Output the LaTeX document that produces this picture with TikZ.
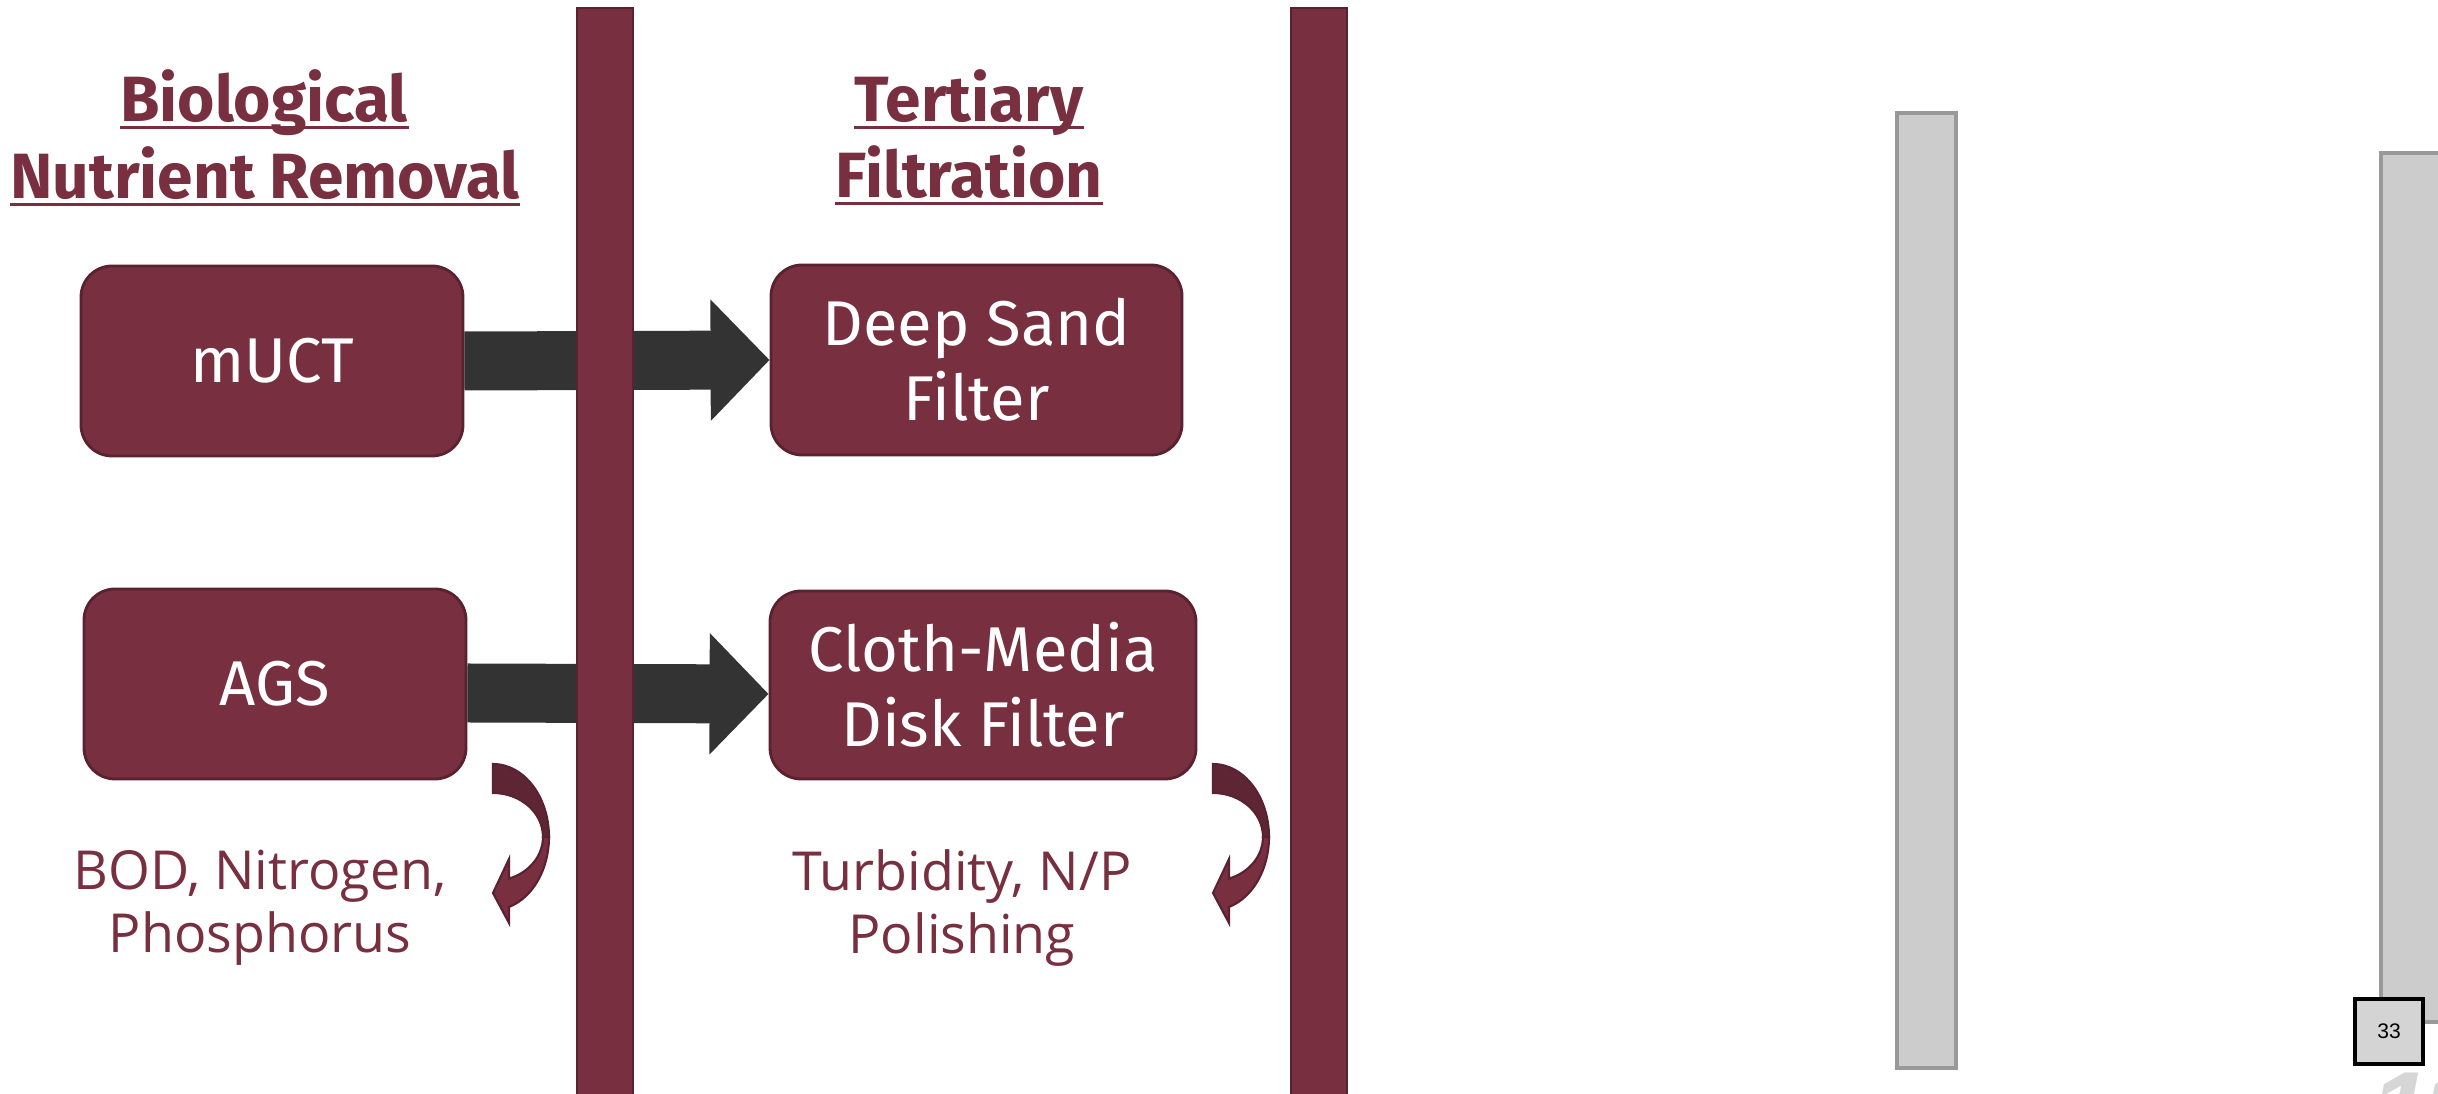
\documentclass[tikz,border=0pt]{standalone}
\usepackage{fontspec}
\usepackage{xcolor}
\usepackage{tikz}
\usetikzlibrary{arrows.meta}

\newfontfamily\headfont{Fira Sans}
\newfontfamily\bodyfont{Open Sans}
\newfontfamily\numfont{Liberation Sans}

\definecolor{garnet}{HTML}{782F40}
\definecolor{garnetdark}{HTML}{5A2131}
\definecolor{garnetshade}{HTML}{5E2535}
\definecolor{flowgray}{HTML}{333333}
\definecolor{barfill}{HTML}{CCCCCC}
\definecolor{baredge}{HTML}{999999}

\tikzset{
    heading/.style={inner sep=0, anchor=base, text=garnet,
        font=\headfont\bfseries\fontsize{18.2}{22}\selectfont},
    procbox/.style={draw=garnetdark, fill=garnet, thick, rounded corners=0.31cm,
        inner sep=0, text=white, align=center, minimum height=1.9cm,
        font=\headfont\fontsize{18}{21.3}\selectfont},
    removes/.style={text=garnet, align=center, inner sep=0,
        font=\bodyfont\fontsize{15.3}{17.9}\selectfont},
    flow/.style={flowgray, line width=0.59cm,
        -{Triangle[length=0.59cm, width=1.18cm]}},
    divider/.style={draw=garnetdark, fill=garnet, thick},
    greybar/.style={draw=baredge, fill=barfill, line width=1.2pt},
    turnarrow/.pic={
        \filldraw[draw=garnetdark, fill=garnetshade, line width=0.6pt]
            (0,0.73) arc[start angle=90, end angle=0, x radius=0.56, y radius=0.73]
            -- (0.50,0) arc[start angle=0, end angle=90, x radius=0.50, y radius=0.44]
            -- cycle;
        \filldraw[draw=garnetdark, fill=garnet, line width=0.6pt]
            (0.56,0) arc[start angle=0, end angle=-73.4, x radius=0.56, y radius=0.73]
            -- (0.16,-0.86) -- (0,-0.56) -- (0.16,-0.22) -- (0.16,-0.416)
            arc[start angle=-71.3, end angle=0, x radius=0.50, y radius=0.44]
            -- cycle;
    }
}

\begin{document}
\begin{tikzpicture}
    \useasboundingbox (0,0) rectangle (24.38,10.94);

    % Column headings
    \node[heading] (bio1) at (2.64,9.72) {Biological\ };
    \node[heading] (bio2) at (2.65,8.95) {Nutrient Removal};
    \node[heading] (ter1) at (9.69,9.72) {Tertiary};
    \node[heading] (ter2) at (9.69,8.96) {Filtration};
    \foreach \h in {bio1,bio2,ter1,ter2}
        \draw[garnet, line width=0.85pt]
            ([yshift=-0.6mm]\h.base west) -- ([yshift=-0.6mm]\h.base east);

    % Process boxes
    \node[procbox, minimum width=3.82cm] (muct) at (2.72,7.33) {mUCT};
    \node[procbox, minimum width=4.11cm] (sand) at (9.765,7.34) {Deep Sand\\Filter};
    \node[procbox, minimum width=3.82cm] (ags) at (2.75,4.10) {AGS};
    \node[procbox, minimum width=4.26cm, minimum height=1.88cm] (cloth) at (9.83,4.09)
        {Cloth-Media\\Disk Filter};

    % Flow arrows (behind the dividers)
    \draw[flow] (muct.east) -- (sand.west);
    \draw[flow] ([yshift=-0.9mm]ags.east) -- ([yshift=-0.9mm]cloth.west);

    % Dividers
    \draw[divider] (5.77,-0.1) rectangle (6.33,10.86);
    \draw[divider] (12.91,-0.1) rectangle (13.47,10.86);

    % What each stage removes
    \node[removes] (bnrnote) at (2.60,1.86) {BOD, Nitrogen,\\Phosphorus};
    \node[removes] (ternote) at (9.62,1.86) {Turbidity, N/P\\Polishing};
    \pic at (4.93,2.57) {turnarrow};
    \pic at (12.13,2.57) {turnarrow};

    % Grey bars on the right
    \draw[greybar] (18.97,0.26) rectangle (19.56,9.81);
    \draw[greybar] (23.81,0.72) rectangle (24.60,9.41);

    % Slide number
    \node[draw=black, fill=barfill!85!white, line width=1.1pt, minimum width=0.68cm,
        minimum height=0.65cm, inner sep=0, font=\numfont\fontsize{6}{7}\selectfont]
        (slideno) at (23.89,0.625) {33};
    \node[anchor=north west, inner sep=0, text=barfill!80!white,
        font=\numfont\bfseries\itshape\fontsize{30}{30}\selectfont]
        (bignum) at (23.70,0.22) {11};
\end{tikzpicture}
\end{document}
